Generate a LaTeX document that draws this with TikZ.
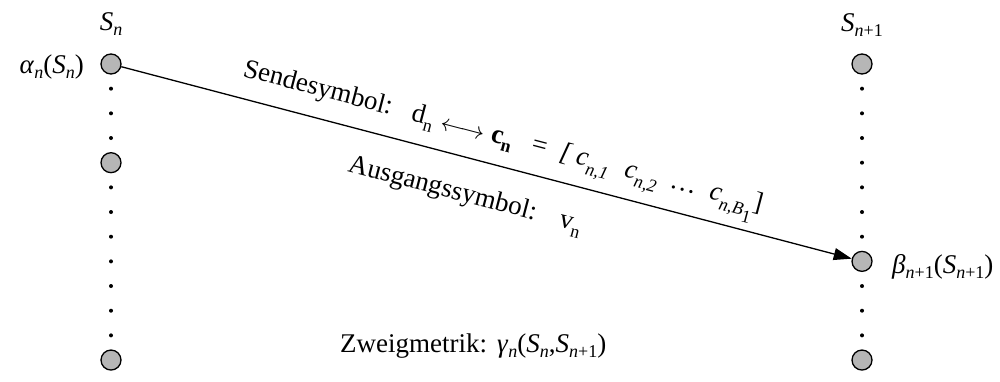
\documentclass[tikz,border=0pt]{standalone}
\usepackage{fontspec}
\setmainfont{Liberation Serif}
\usetikzlibrary{arrows.meta}
\definecolor{stategray}{RGB}{182,182,182}
\newcommand{\lo}[2][5pt]{\raisebox{-#1}{\fontsize{18}{18}\selectfont #2}}
\begin{document}
\begin{tikzpicture}[x=1pt,y=-1pt,
  state/.style={circle,draw,line width=1.3pt,fill=stategray,minimum size=20pt,inner sep=0pt},
  dotnode/.style={circle,fill=black,minimum size=4pt,inner sep=0pt},
  lbl/.style={inner sep=0pt,font=\fontsize{27}{30}\selectfont},
  rlbl/.style={lbl,anchor=base west,rotate=-14.7},
  trans/.style={line width=1.3pt,-{Triangle[length=18pt,width=12pt]}}]
\useasboundingbox (0,0) rectangle (1000,381);
% left column
\foreach \k in {1,2,3,5,6,7,8,9,10,11} \node[dotnode] (l\k) at (111,{64+24.67*\k}) {};
\foreach \k in {0,4,12} \node[state] (l\k) at (111,{64+24.67*\k}) {};
% right column
\foreach \k in {1,...,7,9,10,11} \node[dotnode] (r\k) at (862,{64+24.67*\k}) {};
\foreach \k in {0,8,12} \node[state] (r\k) at (862,{64+24.67*\k}) {};
% transition
\draw[trans] (l0) -- (r8);
% column headers
\node[lbl,anchor=base] (hs) at (111,30) {\textit{S}\lo{\textit{n}}};
\node[lbl,anchor=base] (hs1) at (862,31) {\textit{S}\lo{\textit{n}+1}};
% metrics
\node[lbl,anchor=base east] (alpha) at (84,73) {\textit{α}\lo{\textit{n}}(\textit{S}\lo{\textit{n}})};
\node[lbl,anchor=base west] (beta) at (892,273) {\textit{β}\lo{\textit{n}+1}(\textit{S}\lo{\textit{n}+1})};
\node[lbl,anchor=base west] (gamma) at (340,352) {Zweigmetrik:\hspace{10pt}\textit{γ}\lo{\textit{n}}(\textit{S}\lo{\textit{n}},\textit{S}\lo{\textit{n}+1})};
% send symbol line
\begin{scope}[shift={(242,76)},rotate=-14.7]
\node[rlbl] (send) at (0,0) {Sendesymbol:};
\node[rlbl] (dn) at (174,0) {d\lo[7pt]{n}};
\node[rlbl] (lr) at (204,2) {{\fontsize{10}{10}\selectfont\resizebox{45pt}{!}{$\longleftrightarrow$}}};
\node[rlbl] (cn) at (256,0) {\textbf{c}\lo[7pt]{\textbf{n}}};
\node[rlbl] (eq) at (298,0) {=};
\node[rlbl] (lb) at (327,0) {\textit{[}};
\node[rlbl] (c1) at (344,0) {\textit{c}\lo[8pt]{\textit{n,1}}};
\node[rlbl] (c2) at (394,0) {\textit{c}\lo[8pt]{\textit{n,2}}};
\node[rlbl] (dots) at (441,0) {…};
\node[rlbl] (cb) at (482,0) {\textit{c}\lo[8pt]{\textit{n,B}\lo[6pt]{1}}};
\node[rlbl] (rb) at (527,0) {]};
\end{scope}
% output symbol line
\begin{scope}[shift={(347,171)},rotate=-14.7]
\node[rlbl] (aus) at (0,0) {Ausgangssymbol:};
\node[rlbl] (vn) at (218,0) {v\lo[7pt]{n}};
\end{scope}
\end{tikzpicture}
\end{document}
